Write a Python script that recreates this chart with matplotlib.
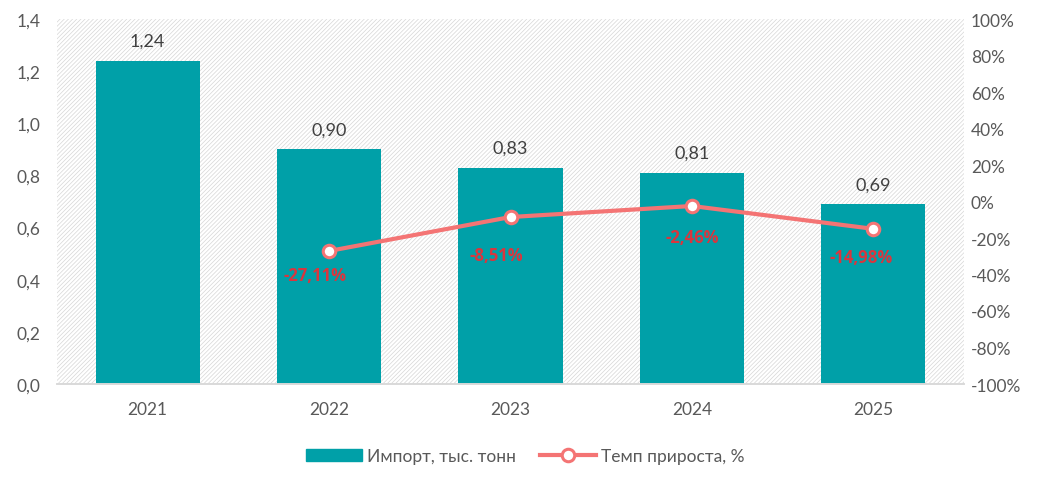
import matplotlib.pyplot as plt
from matplotlib.patches import Rectangle
from matplotlib.lines import Line2D
from matplotlib.ticker import FuncFormatter

plt.rcParams['font.family'] = ['Lato', 'DejaVu Sans']
plt.rcParams['hatch.linewidth'] = 0.5

years = ['2021', '2022', '2023', '2024', '2025']
imports = [1.24, 0.90, 0.83, 0.81, 0.69]
growth_years = ['2022', '2023', '2024', '2025']
growth = [-27.11, -8.51, -2.46, -14.98]
# label offsets in points (dx, dy) below the markers
label_offsets = [(-10, -11), (-10, -21), (0, -16), (-9, -14)]

bar_color = '#00A0A8'
line_color = '#F47474'
text_gray = '#595959'

fig = plt.figure(figsize=(10.44, 4.85), dpi=100)
ax = fig.add_axes([57 / 1044, 100 / 485, 907 / 1044, 365 / 485])
ax2 = ax.twinx()

# hatched background
ax.add_patch(Rectangle((0, 0), 1, 1, transform=ax.transAxes, facecolor='white',
                       edgecolor='#d6d6d6', hatch='////////', linewidth=0, zorder=0))

x = list(range(len(years)))
ax.bar(x, imports, width=0.575, color=bar_color, zorder=2)
for xi, v in zip(x, imports):
    ax.text(xi, v + 0.045, f'{v:.2f}'.replace('.', ','), ha='center', va='bottom',
            fontsize=13, color='#404040')

ax.set_xlim(-0.5, 4.5)
ax.set_ylim(0, 1.4)
ax.set_yticks([i * 0.2 for i in range(8)])
ax.yaxis.set_major_formatter(FuncFormatter(lambda v, p: f'{v:.1f}'.replace('.', ',')))
ax.set_xticks(x)
ax.set_xticklabels(years)

gx = [years.index(y) for y in growth_years]
ax2.plot(gx, growth, color=line_color, linewidth=3, marker='o', markersize=9,
         markerfacecolor='white', markeredgecolor=line_color, markeredgewidth=2.2, zorder=3)
for xi, v, off in zip(gx, growth, label_offsets):
    ax2.annotate(f'{v:.2f}%'.replace('.', ','), (xi, v), xytext=off,
                 textcoords='offset points', ha='center', va='top',
                 fontsize=12, fontweight='bold', color='#D9363E',
                 family=['Open Sans', 'DejaVu Sans'])
ax2.set_ylim(-100, 100)
ax2.set_yticks(range(-100, 101, 20))
ax2.yaxis.set_major_formatter(FuncFormatter(lambda v, p: f'{int(v)}%'))

for a in (ax, ax2):
    for s in ('top', 'left', 'right'):
        a.spines[s].set_visible(False)
    a.spines['bottom'].set_color('#d9d9d9')
    a.spines['bottom'].set_linewidth(1.2)
    a.tick_params(length=0, labelsize=12.5, labelcolor=text_gray)
ax.tick_params(axis='x', pad=12)
ax.tick_params(axis='y', pad=12)
ax2.tick_params(axis='y', pad=5)

handles = [Rectangle((0, 0), 1, 1, color=bar_color),
           Line2D([], [], color=line_color, linewidth=3, marker='o', markersize=9,
                  markerfacecolor='white', markeredgecolor=line_color, markeredgewidth=2.2)]
fig.legend(handles, ['Импорт, тыс. тонн', 'Темп прироста, %'], loc='center',
           bbox_to_anchor=(0.503, 28 / 485), ncol=2, frameon=False, fontsize=12.5,
           labelcolor=text_gray, handlelength=3.2, handletextpad=0.3, columnspacing=1.4)

fig.savefig('out.png', dpi=100)
